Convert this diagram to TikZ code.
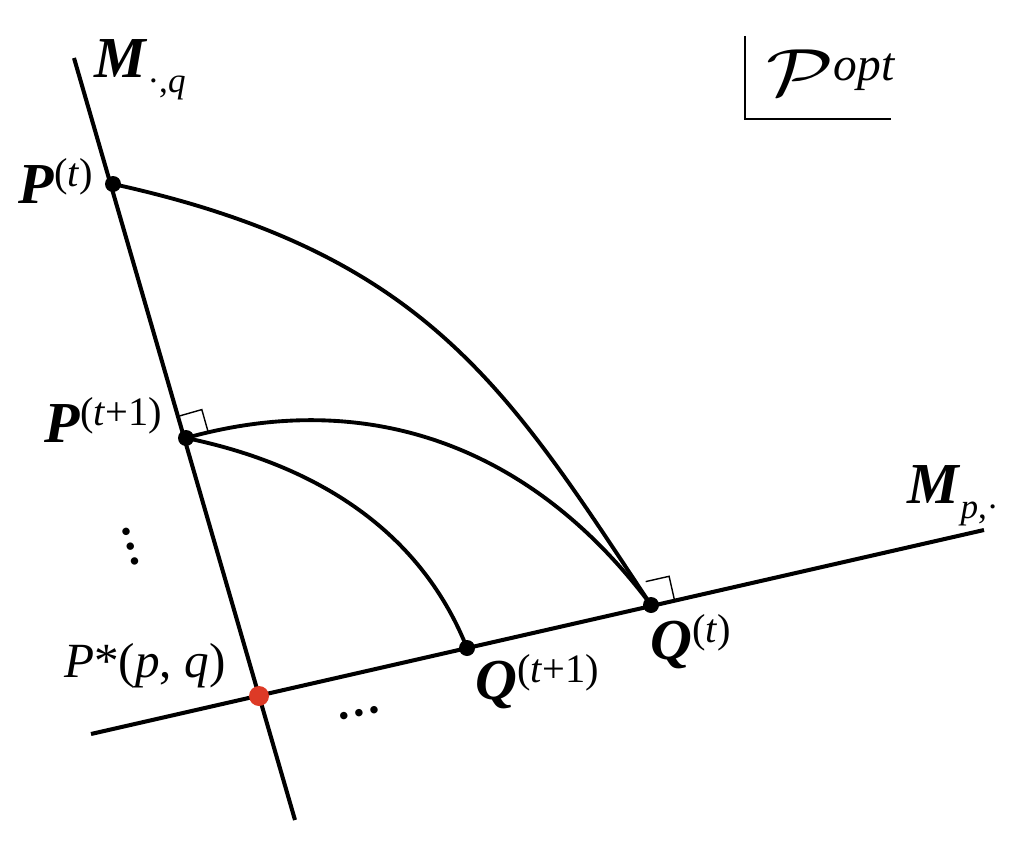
\documentclass[tikz,border=0pt]{standalone}
\usepackage{fix-cm}
\usepackage{amsmath, amsfonts, amssymb}
\usepackage{fontspec}
\setmainfont{Liberation Serif}
\usepackage{xcolor}
\usepackage{tikz}

\definecolor{optred}{RGB}{221,58,38}

\newcommand{\bi}[1]{\textbf{\textit{#1}}}
\newcommand{\sups}[1]{\raisebox{0.34cm}{\fontsize{23}{23}\selectfont #1}}
\newcommand{\subs}[1]{\raisebox{-0.3cm}{\fontsize{20}{20}\selectfont #1}}

\tikzset{
  mline/.style={line width=2.3pt},
  proj/.style={line width=2.2pt},
  rightmark/.style={line width=0.8pt},
  lbl/.style={inner sep=0pt, anchor=base west, font=\fontsize{33}{38}\selectfont},
  dotsbl/.style={inner sep=0pt, font=\fontsize{26}{30}\selectfont\bfseries},
}

\begin{document}
\begin{tikzpicture}[x=0.02cm,y=-0.02cm]
\useasboundingbox (0,0) rectangle (1018,848);

\coordinate (Mq top) at (74,58);
\coordinate (Mq end) at (295,820);
\coordinate (Mp start) at (91,734);
\coordinate (Mp end) at (984,530);

\coordinate (Pt) at (113,184);
\coordinate (Ptone) at (186,438);
\coordinate (Pstar) at (259,696);
\coordinate (Qtone) at (467,648);
\coordinate (Qt) at (651,605);

\draw[mline] (Mq top)--(Mq end);
\draw[mline] (Mp start)--(Mp end);

\draw[proj] (Pt) .. controls (428,253) and (509,391) .. (Qt);
\draw[proj] (Ptone) .. controls (365,388) and (530,443) .. (Qt);
\draw[proj] (Ptone) .. controls (308,463) and (418,525) .. (Qtone);

\draw[rightmark] (Ptone) ++(-6.3,-22.1) -- ++(22.1,-6.3) -- ++(6.3,22.1);
\draw[rightmark] (Qt) ++(-5.3,-23.4) -- ++(23.4,-5.3) -- ++(5.3,23.4);

\fill (Pt) circle (8);
\fill (Ptone) circle (8);
\fill (Qtone) circle (8);
\fill (Qt) circle (8);
\fill[color=optred] (Pstar) circle (10);

\node[lbl] (lMq) at (94,78) {\bi{M}\subs{·,\textit{q}}};
\node[lbl] (lMp) at (907,503) {\bi{M}\subs{\textit{p},·}};
\node[lbl] (lPt) at (18,203) {\bi{P}\sups{(\textit{t})}};
\node[lbl] (lPtone) at (44,442) {\bi{P}\sups{(\textit{t}+1)}};
\node[lbl, font=\fontsize{28}{32}\selectfont] (lPstar) at (64,677) {\textit{P}*(\textit{p}, \textit{q})};
\node[lbl] (lQtone) at (475,699) {\bi{Q}\sups{(\textit{t}+1)}};
\node[lbl] (lQt) at (650,659) {\bi{Q}\sups{(\textit{t})}};

\node[dotsbl, rotate=-74] (vdots) at (131,547) {…};
\node[dotsbl, rotate=11] (hdots) at (359,713) {…};

\coordinate (box top) at (745,36);
\coordinate (box corner) at (745,119);
\coordinate (box end) at (891,119);
\draw[line width=1.2pt] (box top)--(box corner)--(box end);
\node[lbl, font=\fontsize{38}{42}\selectfont] (lopt) at (766,96)
  {\scalebox{1.3}[1]{$\mathcal{P}$}\raisebox{0.32cm}{\fontsize{27}{27}\selectfont\textit{opt}}};
\end{tikzpicture}
\end{document}
